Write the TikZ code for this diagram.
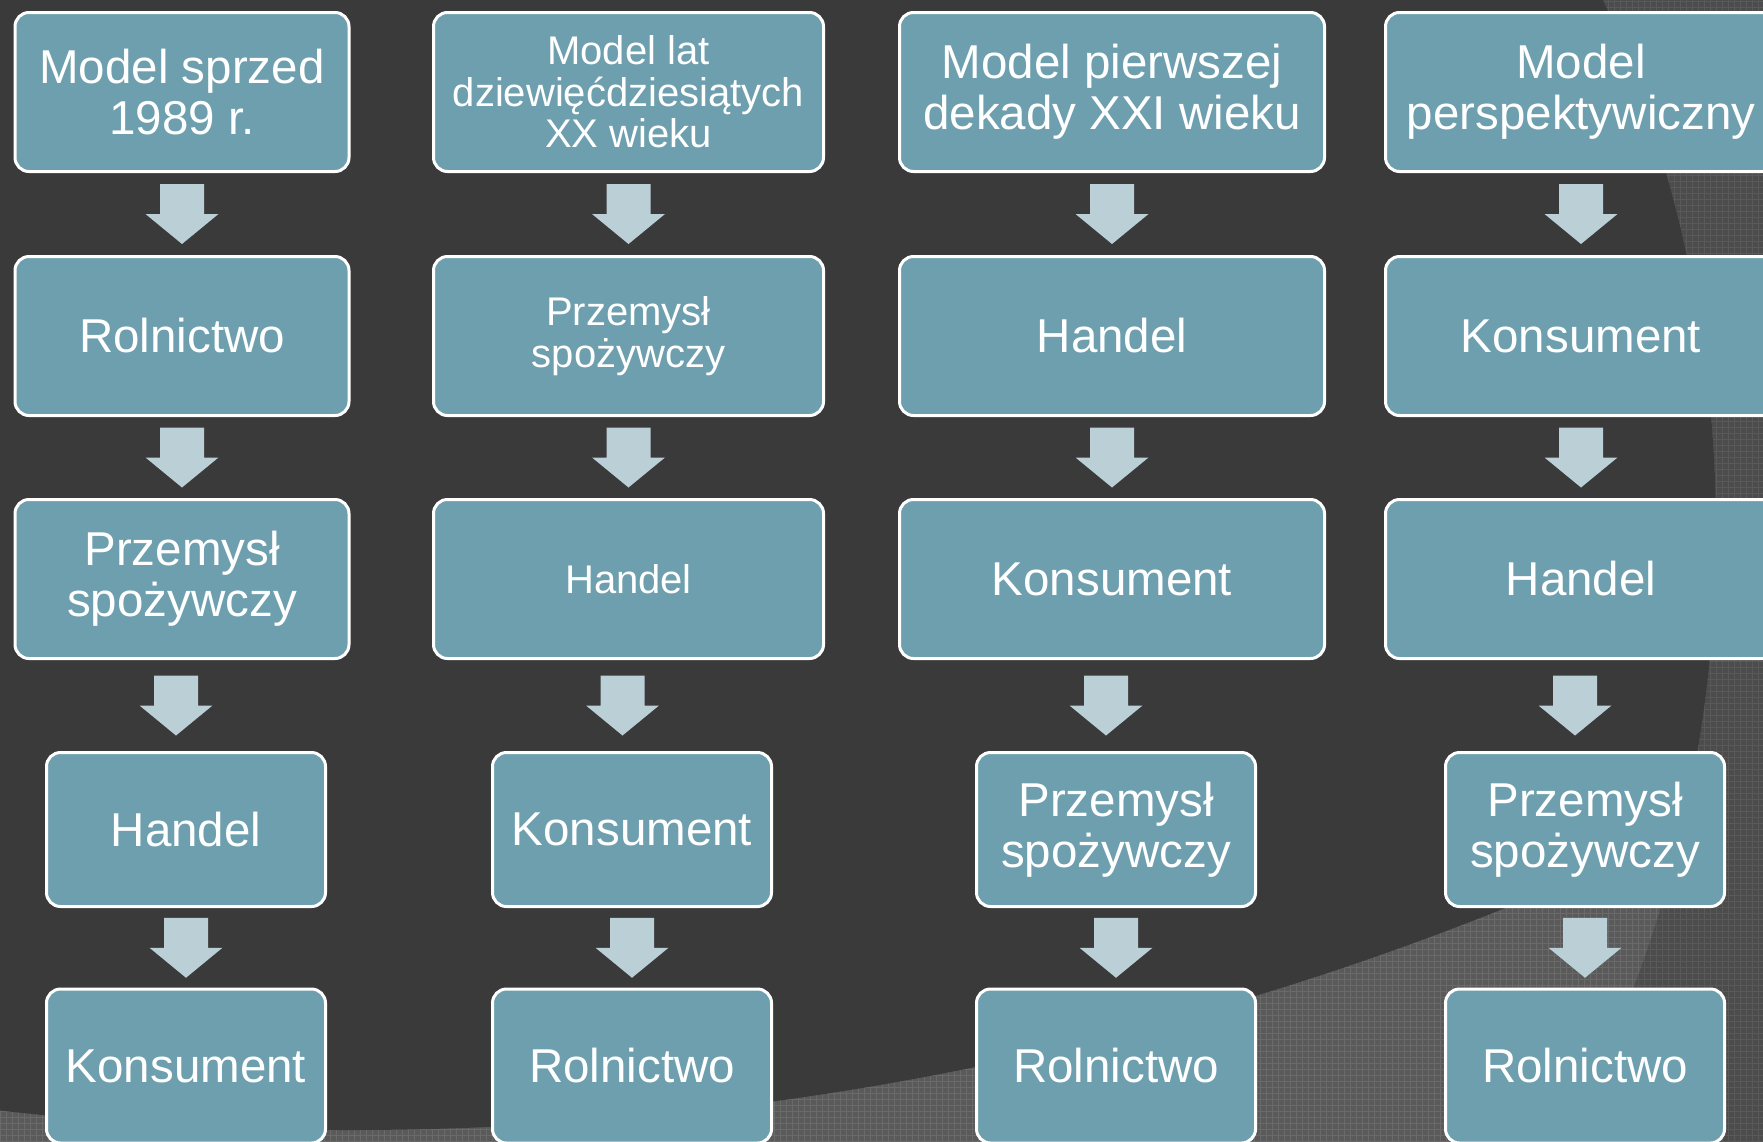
\documentclass[tikz,border=0pt]{standalone}
\usepackage{fontspec}
\setmainfont{Liberation Sans}
\usetikzlibrary{calc,patterns.meta}
\definecolor{tlo}{HTML}{3A3A3A}
\definecolor{tlojasne}{HTML}{5A5A5A}
\definecolor{siatkajasna}{HTML}{6A6A6A}
\definecolor{tlosrednie}{HTML}{4C4C4C}
\definecolor{siatkasrednia}{HTML}{595959}
\definecolor{niebieski}{HTML}{6E9FAE}
\definecolor{strzalka}{HTML}{BACFD6}
\newcommand{\duzy}{\fontsize{47.5}{51}\selectfont}
\newcommand{\maly}{\fontsize{40}{41.5}\selectfont}
\newcommand{\strz}[3][0]{%
  \path ($(#2.south)+(#1,0)$) coordinate (p) (p|-#3.north) coordinate (k) ($(p)!0.5!(k)$) coordinate (m);
  \fill[strzalka] ($(m)+(-22,-30)$) -- ($(m)+(22,-30)$) -- ($(m)+(22,0)$) -- ($(m)+(36.5,0)$)
    -- ($(m)+(0,30)$) -- ($(m)+(-36.5,0)$) -- ($(m)+(-22,0)$) -- cycle;}
\begin{document}
\begin{tikzpicture}[x=1pt,y=-1pt,
  pole/.style={draw=white,line width=3pt,fill=niebieski,text=white,rounded corners=14pt,align=center,inner sep=0pt},
  wysoki/.style={pole,minimum width=#1,minimum height=159pt},
  niski/.style={pole,minimum width=279pt,minimum height=154pt},
  siatka/.style={pattern={Hatch[angle=0,distance=6pt,line width=0.8pt]},pattern color=#1}]
  \useasboundingbox (0,0) rectangle (1763,1141);
  \fill[tlosrednie] (0,0) rectangle (1763,1141);
  \fill[siatka=siatkasrednia] (0,0) rectangle (1763,1141);
  \begin{scope}
    \clip (0,0) rectangle (1763,1141);
    \fill[tlojasne] (416,531) circle [radius=1300pt];
    \fill[siatka=siatkajasna] (416,531) circle [radius=1300pt];
    \clip (416,531) circle [radius=1300pt];
    \fill[tlo] (350,-1975) circle [radius=3105pt];
  \end{scope}

  \node[wysoki=334pt,font=\duzy] (a1) at (182,92) {Model sprzed\\1989 r.};
  \node[wysoki=334pt,font=\duzy] (a2) at (182,336) {Rolnictwo};
  \node[wysoki=334pt,font=\duzy] (a3) at (182,579) {Przemysł\\spożywczy};
  \node[niski,font=\duzy] (a4) at (186,829.5) {Handel};
  \node[niski,font=\duzy] (a5) at (186,1066) {Konsument};

  \node[wysoki=390pt,font=\maly] (b1) at (628.5,92) {Model lat\\dziewięćdziesiątych\\XX wieku};
  \node[wysoki=390pt,font=\maly] (b2) at (628.5,336) {Przemysł\\spożywczy};
  \node[wysoki=390pt,font=\maly] (b3) at (628.5,579) {Handel};
  \node[niski,font=\duzy] (b4) at (632,829.5) {Konsument};
  \node[niski,font=\duzy] (b5) at (632,1066) {Rolnictwo};

  \node[wysoki=425pt,font=\duzy] (c1) at (1112,92) {Model pierwszej\\dekady XXI wieku};
  \node[wysoki=425pt,font=\duzy] (c2) at (1112,336) {Handel};
  \node[wysoki=425pt,font=\duzy] (c3) at (1112,579) {Konsument};
  \node[niski,font=\duzy] (c4) at (1116,829.5) {Przemysł\\spożywczy};
  \node[niski,font=\duzy] (c5) at (1116,1066) {Rolnictwo};

  \node[wysoki=391pt,font=\duzy] (d1) at (1581,92) {Model\\perspektywiczny};
  \node[wysoki=391pt,font=\duzy] (d2) at (1581,336) {Konsument};
  \node[wysoki=391pt,font=\duzy] (d3) at (1581,579) {Handel};
  \node[niski,font=\duzy] (d4) at (1585,829.5) {Przemysł\\spożywczy};
  \node[niski,font=\duzy] (d5) at (1585,1066) {Rolnictwo};

  \foreach \k in {a,b,c,d} {
    \strz{\k1}{\k2}
    \strz{\k2}{\k3}
    \strz[-6]{\k3}{\k4}
    \strz{\k4}{\k5}
  }
\end{tikzpicture}
\end{document}
